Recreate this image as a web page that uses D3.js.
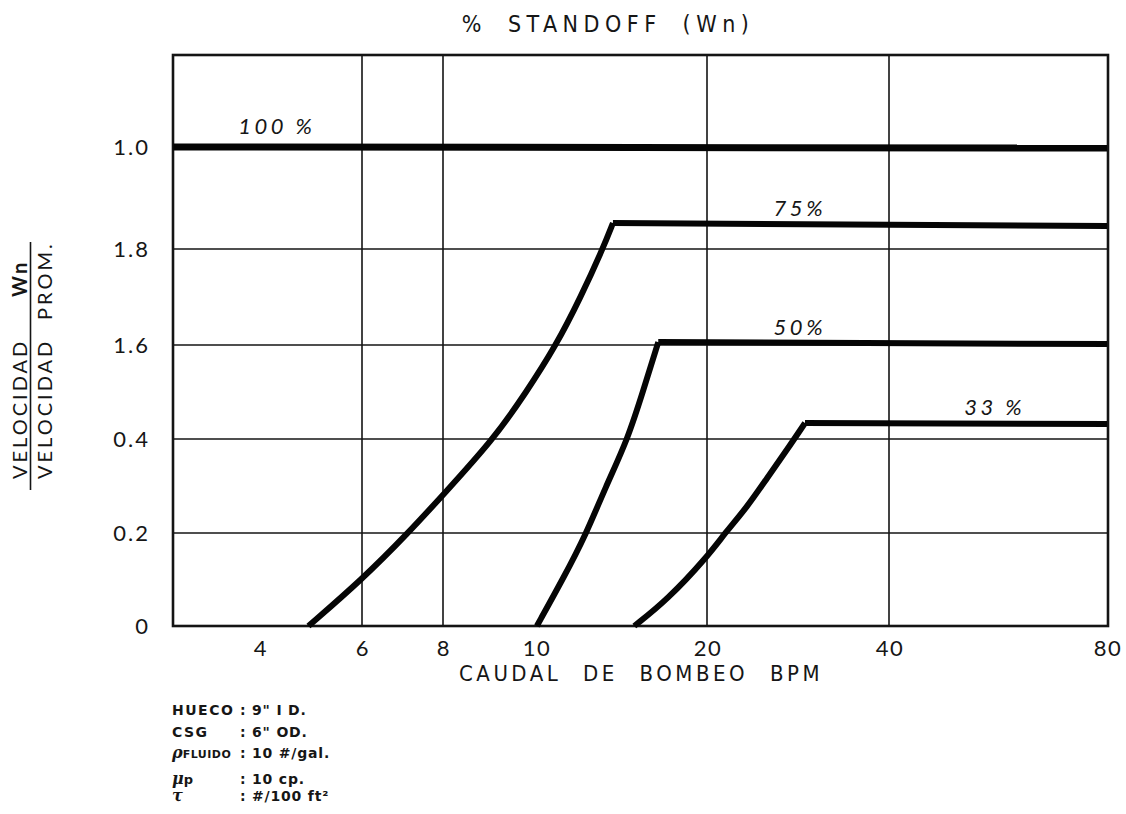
<!DOCTYPE html>
<html>
<head>
<meta charset="utf-8">
<script src="https://cdn.jsdelivr.net/npm/d3@7/dist/d3.min.js"></script>
<style>
  html, body { margin: 0; padding: 0; background: #fff; }
  svg { display: block; }
  text { fill: #161616; }
</style>
</head>
<body>
<svg id="chart" width="1126" height="814"></svg>
<script>
// ---------- DATA ----------
const xTicks = [4, 6, 8, 10, 20, 40, 80];
const xTickLabels = ["4", "6", "8", "10", "20", "40", "80"];
const xGrid = [6, 8, 20, 40];
const yTicks = [0, 0.2, 0.4, 0.6, 0.8, 1.0];
const yTickLabels = ["0", "0.2", "0.4", "1.6", "1.8", "1.0"];
const yGrid = [0.2, 0.4, 0.6, 0.8];

const seriesNames = ["100 %", "75%", "50%", "33 %"];
const rise100 = [];
const flat100 = [[2.3, 1.0], [80, 0.998]];
const rise75 = [[4.95, 0], [6, 0.10], [7.14, 0.2], [8, 0.281], [9.09, 0.4], [9.78, 0.498], [11.16, 0.598], [12.62, 0.70], [13.9, 0.8], [14.5, 0.851]];
const flat75 = [[14.5, 0.851], [80, 0.845]];
const rise50 = [[10.05, 0], [11.63, 0.105], [12.91, 0.196], [14.07, 0.298], [15.35, 0.398], [16.28, 0.504], [17.15, 0.606]];
const flat50 = [[17.15, 0.606], [80, 0.602]];
const rise33 = [[15.75, 0], [17.67, 0.056], [20, 0.148], [21.98, 0.2], [24.4, 0.255], [26.6, 0.317], [28.79, 0.377], [30.77, 0.434]];
const flat33 = [[30.77, 0.434], [80, 0.432]];
// label anchor (data coords of the label centre along the plateau)
const labelX = [4.33, 30.2, 30.2, 59.4];

const notesLeft = ["HUECO", "CSG", "FLUIDO", "p", ""];
const notesSymbol = ["", "", "\u03C1", "\u03BC", "\u03C4"];
const notesRight = [": 9\"  I D.", ": 6\"  OD.", ": 10 #/gal.", ": 10 cp.", ": #/100 ft\u00B2"];

// ---------- LAYOUT ----------
const xTickPx = [260, 362, 443, 536, 707, 889, 1107];
const yTickPx = [626, 533, 439, 345, 249, 147];
const plot = { left: 173, right: 1108, top: 55, bottom: 626 };

const svg = d3.select("#chart");
const x = d3.scaleLinear().domain(xTicks).range(xTickPx);
const y = d3.scaleLinear().domain(yTicks).range(yTickPx);

const ink = "#141414";
const labelFont = "Lato, 'Open Sans', 'DejaVu Sans', sans-serif";
const narrowFont = "'DejaVu Sans Condensed', 'Liberation Sans Narrow', 'DejaVu Sans', sans-serif";

// grid
const g = svg.append("g");
g.selectAll("line.vg").data(xGrid).enter().append("line")
  .attr("x1", d => x(d)).attr("x2", d => x(d))
  .attr("y1", plot.top).attr("y2", plot.bottom)
  .attr("stroke", ink).attr("stroke-width", 1.6);
g.selectAll("line.hg").data(yGrid).enter().append("line")
  .attr("x1", plot.left).attr("x2", plot.right)
  .attr("y1", d => y(d)).attr("y2", d => y(d))
  .attr("stroke", ink).attr("stroke-width", 1.6);

// frame
g.append("rect")
  .attr("x", plot.left).attr("y", plot.top)
  .attr("width", plot.right - plot.left).attr("height", plot.bottom - plot.top)
  .attr("fill", "none").attr("stroke", ink).attr("stroke-width", 2.6);

// curves
const riseLine = d3.line().x(d => x(d[0])).y(d => y(d[1])).curve(d3.curveBasis);
const flatLine = d3.line().x(d => x(d[0])).y(d => y(d[1]));
const rises = [rise100, rise75, rise50, rise33];
const flats = [flat100, flat75, flat50, flat33];
const widths = [7, 6, 6, 6];

rises.forEach((r, i) => {
  if (r.length) {
    svg.append("path").attr("d", riseLine(r))
      .attr("fill", "none").attr("stroke", "#050505")
      .attr("stroke-width", widths[i]).attr("stroke-linejoin", "round").attr("stroke-linecap", "butt");
  }
  svg.append("path").attr("d", flatLine(flats[i]))
    .attr("fill", "none").attr("stroke", "#050505")
    .attr("stroke-width", widths[i]).attr("stroke-linejoin", "miter").attr("stroke-linecap", "butt");
});

// series labels
const labelDy = [-13, -7, -7, -8];
seriesNames.forEach((name, i) => {
  const f = flats[i];
  svg.append("text")
    .attr("x", x(labelX[i]))
    .attr("y", y(f[0][1]) + labelDy[i])
    .attr("text-anchor", "middle")
    .attr("font-family", labelFont)
    .attr("font-style", "italic")
    .attr("font-size", 22)
    .attr("letter-spacing", 3.5)
    .text(name);
});

// y tick labels
yTicks.forEach((v, i) => {
  svg.append("text")
    .attr("x", 150).attr("y", y(v) + 8)
    .attr("text-anchor", "end")
    .attr("font-family", labelFont)
    .attr("font-size", 22)
    .attr("letter-spacing", 2)
    .text(yTickLabels[i]);
});

// x tick labels
xTicks.forEach((v, i) => {
  svg.append("text")
    .attr("x", x(v) + 1).attr("y", 656)
    .attr("text-anchor", "middle")
    .attr("font-family", labelFont)
    .attr("font-size", 22)
    .attr("letter-spacing", 1.5)
    .text(xTickLabels[i]);
});

// top title
svg.append("text")
  .attr("x", 608).attr("y", 32)
  .attr("text-anchor", "middle")
  .attr("font-family", narrowFont)
  .attr("font-size", 23)
  .attr("letter-spacing", 5.5)
  .attr("word-spacing", 9)
  .text("% STANDOFF (Wn)");

// x axis title
svg.append("text")
  .attr("x", 641).attr("y", 681)
  .attr("text-anchor", "middle")
  .attr("font-family", narrowFont)
  .attr("font-size", 22)
  .attr("letter-spacing", 3.5)
  .attr("word-spacing", 12)
  .text("CAUDAL DE BOMBEO BPM");

// y axis title (fraction)
const yt = svg.append("g").attr("font-family", labelFont).attr("font-size", 20).attr("letter-spacing", 3);
yt.append("text").attr("transform", "translate(27,479) rotate(-90)").text("VELOCIDAD");
yt.append("text").attr("transform", "translate(27,297) rotate(-90)").attr("font-weight", "bold").text("Wn");
yt.append("line").attr("x1", 30.5).attr("x2", 30.5).attr("y1", 490).attr("y2", 242)
  .attr("stroke", ink).attr("stroke-width", 1.6);
yt.append("text").attr("transform", "translate(52,479) rotate(-90)").text("VELOCIDAD");
yt.append("text").attr("transform", "translate(52,320) rotate(-90)").text("PROM.");

// notes
const notes = svg.append("g").attr("font-family", "'DejaVu Sans', sans-serif").attr("font-weight", "bold");
const noteY = [715, 737, 758, 784, 801];
notesLeft.forEach((t, i) => {
  const row = notes.append("text").attr("x", 172).attr("y", noteY[i]);
  if (notesSymbol[i]) {
    row.append("tspan").attr("font-family", "'DejaVu Serif', serif").attr("font-style", "italic")
      .attr("font-size", 16).text(notesSymbol[i]);
    row.append("tspan").attr("font-size", i === 2 ? 11 : 13).attr("letter-spacing", 0.5).text(t);
  } else {
    row.append("tspan").attr("font-size", 14).attr("letter-spacing", 1.5).text(t);
  }
  notes.append("text").attr("x", 240).attr("y", noteY[i]).attr("font-size", 14)
    .attr("letter-spacing", 0.8).text(notesRight[i]);
});
</script>
</body>
</html>
